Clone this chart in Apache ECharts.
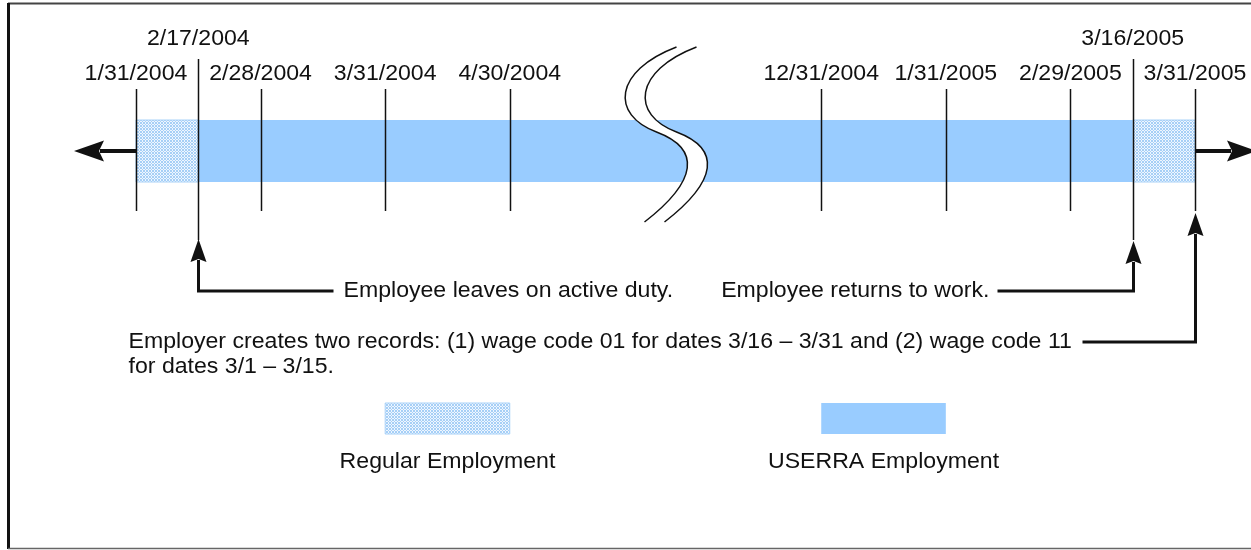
<!DOCTYPE html>
<html>
<head>
<meta charset="utf-8">
<script src="https://cdn.jsdelivr.net/npm/echarts@6/dist/echarts.min.js"></script>
<style>
  html, body { margin: 0; padding: 0; background: #fff; }
  #chart { width: 1251px; height: 550px; }
</style>
</head>
<body>
<div id="chart"></div>
<script>
// positions on the timeline are half-month steps from 1/31/2004,
// the stretch between 4/30/2004 and 12/31/2004 is cut out (break mark)
const tickLabels = ['1/31/2004', '2/17/2004', '2/28/2004', '3/31/2004', '4/30/2004',
  '12/31/2004', '1/31/2005', '2/29/2005', '3/16/2005', '3/31/2005'];
const tickSteps = [0, 1, 2, 4, 6, 11, 13, 15, 16, 17];
const tickIsEvent = [false, true, false, false, false, false, false, false, true, false];

const periodStart = [1, 0, 16];
const periodEnd = [16, 1, 17];
const periodKind = ['userra', 'regular', 'regular'];

const breakStep = 8.5;

const noteTexts = [
  'Employee leaves on active duty.',
  'Employee returns to work.',
  'Employer creates two records: (1) wage code 01 for dates 3/16 \u2013 3/31 and (2) wage code 11\nfor dates 3/1 \u2013 3/15.'
];
const noteSteps = [1, 16, 17];

const legendKinds = ['regular', 'userra'];
const legendNames = ['Regular Employment', 'USERRA Employment'];

// ---- layout (pixels on the y axis, which runs 0..550 top-down) ----
const STEP_PX = (1195 - 136) / 17;
const X_MIN = -136 / STEP_PX;
const X_MAX = (1251 - 136) / STEP_PX;
const BAR_TOP = 120, BAR_BOTTOM = 182, BAR_MID = 151;
const TICK_TOP = 89, TICK_BOTTOM = 211;
const EVENT_TOP = 59, EVENT_BOTTOM = 240;
const LABEL_LO = 74, LABEL_HI = 39;
const FONT = '22px "Liberation Sans", Arial, sans-serif';
const WIDEN = 1.05; // the original face runs a little wider than Arial
const LINE_H = 25;
const INK = '#111';
const BLUE = '#99ccff';
const NOTE_LAYOUT = [
  { tipY: 239, elbowY: 291, reach: 135, textDx: 145, align: 'left', textY: 291 },
  { tipY: 241, elbowY: 291, reach: -136, textDx: -144, align: 'right', textY: 291 },
  { tipY: 213, elbowY: 342, reach: -113, textDx: -1067, align: 'left', textY: 342 }
];
const LEGEND_AT = [5, 12];
const LEGEND_TOP = 403, LEGEND_BOTTOM = 434, LEGEND_LABEL_Y = 462;

function makeDots() {
  const c = document.createElement('canvas');
  c.width = 3; c.height = 3;
  const g = c.getContext('2d');
  g.fillStyle = '#eef6ff';
  g.fillRect(0, 0, 3, 3);
  g.fillStyle = '#a6cff6';
  [[0, 0], [2, 0], [1, 1], [0, 2], [2, 2]].forEach(function (p) { g.fillRect(p[0], p[1], 1, 1); });
  return c;
}
const dots = { image: makeDots(), repeat: 'repeat' };

function fillFor(kind) {
  return kind === 'regular'
    ? { fill: dots, stroke: '#a9d2f8', lineWidth: 1 }
    : { fill: BLUE };
}

// text placed at (x, y), first line centred on y, stretched a bit sideways
function label(text, x, y, align) {
  return {
    type: 'text',
    x: x, y: y - LINE_H / 2,
    scaleX: WIDEN,
    style: { text: text, x: 0, y: 0, font: FONT, fill: INK, align: align, verticalAlign: 'top', lineHeight: LINE_H }
  };
}

var myChart = echarts.init(document.getElementById('chart'), null, { renderer: 'canvas' });

var option = {
  animation: false,
  grid: { left: 0, right: 0, top: 0, bottom: 0 },
  xAxis: { type: 'value', min: X_MIN, max: X_MAX, show: false },
  yAxis: { type: 'value', min: 0, max: 550, inverse: true, show: false },
  graphic: [
    { type: 'line', shape: { x1: 8, y1: 3.5, x2: 1251, y2: 3.5 }, style: { stroke: '#444', lineWidth: 2 } },
    { type: 'line', shape: { x1: 8.5, y1: 3, x2: 8.5, y2: 549 }, style: { stroke: '#111', lineWidth: 3 } },
    { type: 'line', shape: { x1: 8, y1: 548.5, x2: 1251, y2: 548.5 }, style: { stroke: '#666', lineWidth: 1.5 } }
  ],
  series: [
    {
      name: 'periods',
      type: 'custom',
      clip: false,
      data: periodStart.map(function (s, i) { return [s, periodEnd[i]]; }),
      renderItem: function (params, api) {
        var a = api.coord([api.value(0), BAR_TOP]);
        var b = api.coord([api.value(1), BAR_BOTTOM]);
        return {
          type: 'rect',
          shape: { x: a[0], y: a[1], width: b[0] - a[0], height: b[1] - a[1] },
          style: fillFor(periodKind[params.dataIndex])
        };
      }
    },
    {
      name: 'ends',
      type: 'custom',
      clip: false,
      data: [[Math.min.apply(null, periodStart), -1], [Math.max.apply(null, periodEnd), 1]],
      renderItem: function (params, api) {
        var p = api.coord([api.value(0), BAR_MID]);
        var d = api.value(1);
        var baseX = p[0] + d * 32;
        var tipX = p[0] + d * 62;
        return {
          type: 'group',
          children: [
            { type: 'line', shape: { x1: p[0], y1: p[1], x2: baseX + d * 4, y2: p[1] }, style: { stroke: INK, lineWidth: 4 } },
            { type: 'polygon', shape: { points: [[tipX, p[1]], [baseX, p[1] - 10.5], [baseX + d * 5, p[1]], [baseX, p[1] + 10.5]] }, style: { fill: INK } }
          ]
        };
      }
    },
    {
      name: 'ticks',
      type: 'custom',
      clip: false,
      data: tickSteps.map(function (s, i) { return [s, i]; }),
      renderItem: function (params, api) {
        var i = params.dataIndex;
        var ev = tickIsEvent[i];
        var top = api.coord([api.value(0), ev ? EVENT_TOP : TICK_TOP]);
        var bot = api.coord([api.value(0), ev ? EVENT_BOTTOM : TICK_BOTTOM]);
        var lab = api.coord([api.value(0), ev ? LABEL_HI : LABEL_LO]);
        var x = Math.round(top[0]) + 0.5;
        return {
          type: 'group',
          children: [
            { type: 'line', shape: { x1: x, y1: top[1], x2: x, y2: bot[1] }, style: { stroke: INK, lineWidth: 1.5 } },
            label(tickLabels[i], lab[0], lab[1], 'center')
          ]
        };
      }
    },
    {
      name: 'break',
      type: 'custom',
      clip: false,
      data: [[breakStep, 0]],
      renderItem: function (params, api) {
        var c = api.coord([api.value(0), BAR_MID]);
        function P(dx, dy) { return (c[0] + dx).toFixed(1) + ',' + (c[1] + dy).toFixed(1); }
        var left = 'M' + P(11, -104) + ' C' + P(-52, -80) + ' ' + P(-55, -36) + ' ' + P(-9, -19) +
          ' C' + P(36, -2) + ' ' + P(32, 30) + ' ' + P(-21, 71);
        var right = 'M' + P(31, -104) + ' C' + P(-32, -80) + ' ' + P(-35, -36) + ' ' + P(11, -19) +
          ' C' + P(56, -2) + ' ' + P(52, 30) + ' ' + P(-1, 71);
        var band = left + ' L' + P(-1, 71) + ' C' + P(52, 30) + ' ' + P(56, -2) + ' ' + P(11, -19) +
          ' C' + P(-35, -36) + ' ' + P(-32, -80) + ' ' + P(31, -104) + ' Z';
        return {
          type: 'group',
          children: [
            { type: 'path', shape: { pathData: band }, style: { fill: '#fff' } },
            { type: 'path', shape: { pathData: left }, style: { fill: null, stroke: INK, lineWidth: 1.5 } },
            { type: 'path', shape: { pathData: right }, style: { fill: null, stroke: INK, lineWidth: 1.5 } }
          ]
        };
      }
    },
    {
      name: 'notes',
      type: 'custom',
      clip: false,
      data: noteSteps.map(function (s, i) { return [s, i]; }),
      renderItem: function (params, api) {
        var i = params.dataIndex;
        var L = NOTE_LAYOUT[i];
        var tip = api.coord([api.value(0), L.tipY]);
        var elbow = api.coord([api.value(0), L.elbowY]);
        var x = Math.round(tip[0]) + 0.5;
        var base = tip[1] + 23;
        var ty = api.coord([api.value(0), L.textY])[1];
        return {
          type: 'group',
          children: [
            { type: 'polygon', shape: { points: [[x, tip[1]], [x - 8, base], [x, base - 3], [x + 8, base]] }, style: { fill: INK } },
            { type: 'polyline', shape: { points: [[x, base - 2], [x, elbow[1]], [x + L.reach, elbow[1]]] }, style: { stroke: INK, lineWidth: 3, fill: null } },
            label(noteTexts[i], x + L.textDx, ty, L.align)
          ]
        };
      }
    },
    {
      name: 'legend',
      type: 'custom',
      clip: false,
      data: legendKinds.map(function (k, i) { return [LEGEND_AT[i], i]; }),
      renderItem: function (params, api) {
        var i = params.dataIndex;
        var a = api.coord([api.value(0) - 1, LEGEND_TOP]);
        var b = api.coord([api.value(0) + 1, LEGEND_BOTTOM]);
        var lab = api.coord([api.value(0), LEGEND_LABEL_Y]);
        return {
          type: 'group',
          children: [
            { type: 'rect', shape: { x: a[0], y: a[1], width: b[0] - a[0], height: b[1] - a[1] }, style: fillFor(legendKinds[i]) },
            label(legendNames[i], lab[0], lab[1], 'center')
          ]
        };
      }
    }
  ]
};

myChart.setOption(option);
</script>
</body>
</html>
